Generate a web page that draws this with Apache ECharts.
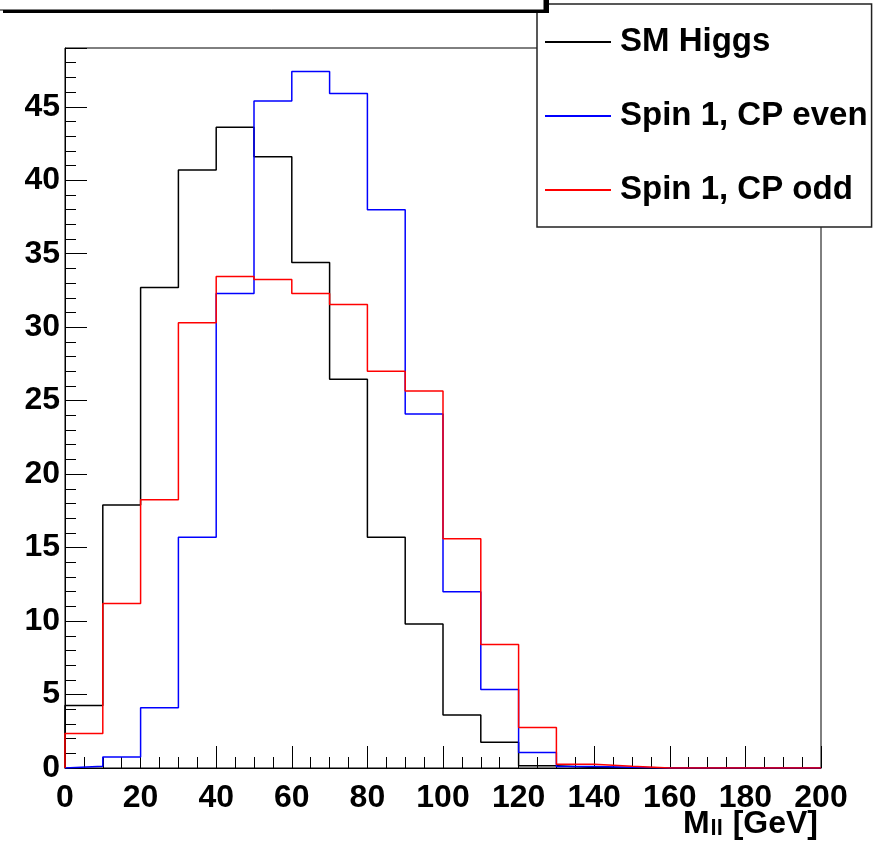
<!DOCTYPE html>
<html>
<head>
<meta charset="utf-8">
<script src="https://cdn.jsdelivr.net/npm/echarts@6/dist/echarts.min.js"></script>
<style>
html,body{margin:0;padding:0;background:#fff;}
#chart{width:883px;height:843px;}
</style>
</head>
<body>
<div id="chart"></div>
<script>
// bin lower edges (GeV), bin width 10, upper limit 200
const binEdges = [0,10,20,30,40,50,60,70,80,90,100,110,120,130,140,150,160,170,180,190];
const xUpper = 200;
const smHiggs = [4.25,17.9,32.7,40.7,43.6,41.6,34.4,26.45,15.7,9.8,3.6,1.75,0.15,0.03,0,0,0,0,0,0];
const spin1CPeven = [0.12,0.75,4.1,15.7,32.3,45.4,47.4,45.9,38.0,24.1,12.0,5.35,1.05,0.1,0.05,0,0,0,0,0];
const spin1CPodd = [2.35,11.2,18.25,30.3,33.45,33.25,32.3,31.55,27.0,25.65,15.6,8.4,2.75,0.25,0.12,0,0,0,0,0];
const seriesNames = ['SM Higgs','Spin 1, CP even','Spin 1, CP odd'];
const yTicks = [0,5,10,15,20,25,30,35,40,45];
const xTicks = [0,20,40,60,80,100,120,140,160,180,200];
const xTitle = '{b|M}{s|ll}{b| [GeV]}';

function histPoints(vals){
  const pts = [[binEdges[0], 0]];
  vals.forEach((v,i)=>pts.push([binEdges[i], v]));
  pts.push([xUpper, vals[vals.length-1]]);
  return pts;
}

const FONT = 'Liberation Sans';
const chart = echarts.init(document.getElementById('chart'), null, {renderer:'canvas'});
const lbl = {fontFamily:FONT, fontSize:32, fontWeight:'bold', color:'#000'};

function mkSeries(name, vals, color){
  return {
    name:name, type:'line', step:'end', symbol:'none', showSymbol:false,
    data: histPoints(vals), xAxisIndex:0, yAxisIndex:0,
    lineStyle:{color:color, width:1.5}, itemStyle:{color:color},
    animation:false
  };
}

chart.setOption({
  animation:false,
  backgroundColor:'#fff',
  grid:{left:65, right:62, top:48, bottom:75, show:true, borderColor:'#000', borderWidth:1,
        backgroundColor:'transparent', containLabel:false, outerBoundsMode:'none'},
  xAxis:[
    {type:'value', min:0, max:200, interval:20, position:'bottom',
     axisLine:{show:true, lineStyle:{color:'#000', width:1}},
     axisTick:{show:true, inside:true, length:22, lineStyle:{color:'#000', width:1}},
     axisLabel:{...lbl, margin:14, formatter:v=> xTicks.includes(v) ? String(v) : ''},
     splitLine:{show:false}
    },
    {type:'value', min:0, max:200, interval:5, position:'bottom',
     axisLine:{show:false}, axisLabel:{show:false}, splitLine:{show:false},
     axisTick:{show:true, inside:true, length:11, lineStyle:{color:'#000', width:1}}
    }
  ],
  yAxis:[
    {type:'value', min:0, max:49, interval:5, position:'left',
     axisLine:{show:true, lineStyle:{color:'#000', width:1}},
     axisTick:{show:true, inside:true, length:22, lineStyle:{color:'#000', width:1}},
     axisLabel:{...lbl, margin:5, formatter:v=> yTicks.includes(v) ? String(v) : ''},
     splitLine:{show:false}
    },
    {type:'value', min:0, max:49, interval:1, position:'left',
     axisLine:{show:false}, axisLabel:{show:false}, splitLine:{show:false},
     axisTick:{show:true, inside:true, length:11, lineStyle:{color:'#000', width:1}}
    }
  ],
  legend:{
    orient:'vertical', left:537, top:4,
    padding:[21,4,20,8], itemGap:40, itemWidth:66, itemHeight:2, icon:'rect',
    backgroundColor:'#fff', borderColor:'#222', borderWidth:1.5, borderRadius:0,
    textStyle:{fontFamily:FONT, fontSize:33, fontWeight:'bold', color:'#000', lineHeight:34, padding:[0,0,0,4]},
    data: seriesNames
  },
  graphic:[
    {type:'rect', z:100, shape:{x:3, y:-20, width:546, height:33}, style:{fill:'#000'}},
    {type:'rect', z:101, shape:{x:-5, y:-20, width:549, height:30}, style:{fill:'#fff', stroke:'#000', lineWidth:1}},
    {type:'text', z:100, right:65, top:802,
     style:{text:xTitle, fill:'#000',
       rich:{b:{fontFamily:FONT, fontSize:32, fontWeight:'bold', fill:'#000', lineHeight:32},
             s:{fontFamily:FONT, fontSize:22, fontWeight:'bold', fill:'#000', lineHeight:22, verticalAlign:'bottom', padding:[16,1,0,1]}}}}
  ],
  series:[
    mkSeries(seriesNames[0], smHiggs, '#000000'),
    mkSeries(seriesNames[1], spin1CPeven, '#0000ff'),
    mkSeries(seriesNames[2], spin1CPodd, '#ff0000')
  ]
});
</script>
</body>
</html>
